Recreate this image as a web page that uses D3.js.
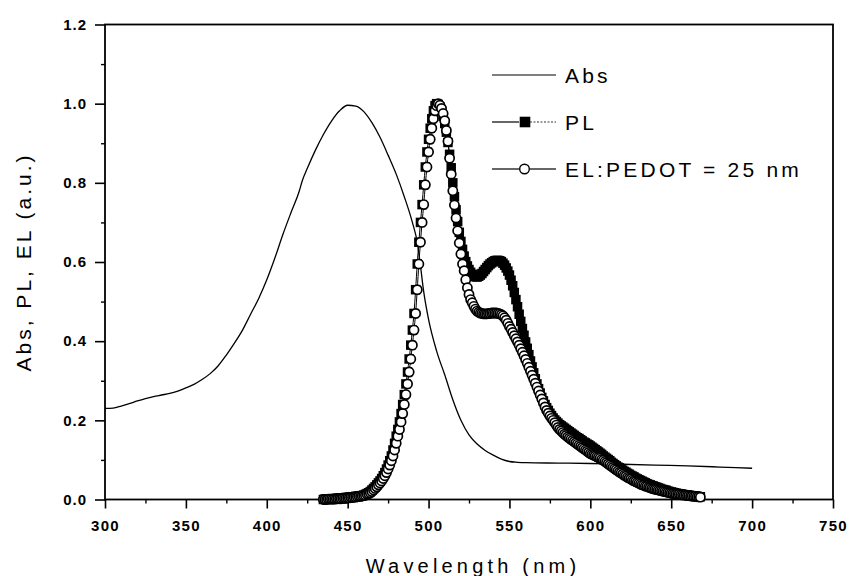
<!DOCTYPE html>
<html>
<head>
<meta charset="utf-8">
<script src="https://cdn.jsdelivr.net/npm/d3@7"></script>
<style>
  body { margin: 0; background: #fff; }
  svg { display: block; }
</style>
</head>
<body>
<div id="chart"></div>
<script>
// Absorption spectrum
const absWl = [300, 305, 310, 315, 320, 325, 330, 335, 340, 345, 350, 355, 360, 365, 370, 375, 380, 385, 390, 395,
  400, 405, 410, 415, 420, 422, 425, 430, 435, 440, 445, 450, 455, 460, 465, 470, 475, 480, 485, 490,
  493, 495, 497, 500, 505, 510, 515, 520, 525, 530, 535, 540, 545, 550, 555, 560, 580, 600, 620, 640,
  660, 680, 700];
const absVal = [0.230, 0.231, 0.236, 0.242, 0.249, 0.255, 0.260, 0.264, 0.268, 0.274, 0.282, 0.291, 0.303, 0.318, 0.338, 0.365, 0.395, 0.428, 0.468, 0.508,
  0.555, 0.610, 0.670, 0.725, 0.778, 0.806, 0.836, 0.882, 0.922, 0.956, 0.982, 0.996, 0.994, 0.980, 0.952, 0.915, 0.870, 0.822, 0.765, 0.700,
  0.650, 0.590, 0.525, 0.455, 0.375, 0.315, 0.252, 0.200, 0.163, 0.140, 0.124, 0.112, 0.102, 0.096, 0.094, 0.093, 0.092, 0.091, 0.089, 0.087,
  0.085, 0.082, 0.079];

// PL and EL are sampled every 1 nm, 435 .. 668 nm
const emWl = d3.range(435, 669);
const plVal = [
  0.000, 0.001, 0.001, 0.001, 0.001, 0.002, 0.002, 0.002, 0.003, 0.003,
  0.003, 0.004, 0.004, 0.004, 0.005, 0.005, 0.006, 0.006, 0.007, 0.007,
  0.008, 0.008, 0.009, 0.009, 0.010, 0.011, 0.013, 0.015, 0.017, 0.020,
  0.024, 0.028, 0.032, 0.037, 0.042, 0.047, 0.053, 0.060, 0.068, 0.077,
  0.087, 0.098, 0.110, 0.125, 0.142, 0.160, 0.177, 0.196, 0.217, 0.240,
  0.265, 0.292, 0.322, 0.355, 0.390, 0.428, 0.470, 0.530, 0.595, 0.650,
  0.700, 0.745, 0.795, 0.840, 0.878, 0.910, 0.938, 0.962, 0.982, 0.995,
  1.000, 0.998, 0.992, 0.982, 0.968, 0.950, 0.928, 0.902, 0.872, 0.838,
  0.800, 0.765, 0.732, 0.702, 0.675, 0.652, 0.632, 0.615, 0.601, 0.590,
  0.581, 0.574, 0.569, 0.565, 0.563, 0.562, 0.564, 0.567, 0.571, 0.576,
  0.581, 0.586, 0.591, 0.595, 0.598, 0.601, 0.603, 0.604, 0.604, 0.603,
  0.601, 0.597, 0.592, 0.585, 0.577, 0.567, 0.554, 0.540, 0.523, 0.505,
  0.487, 0.468, 0.450, 0.432, 0.415, 0.398, 0.382, 0.366, 0.350, 0.335,
  0.320, 0.305, 0.292, 0.280, 0.269, 0.258, 0.249, 0.240, 0.232, 0.225,
  0.218, 0.212, 0.206, 0.201, 0.197, 0.193, 0.189, 0.186, 0.183, 0.180,
  0.177, 0.174, 0.171, 0.168, 0.165, 0.162, 0.159, 0.156, 0.154, 0.151,
  0.148, 0.145, 0.143, 0.140, 0.138, 0.135, 0.132, 0.129, 0.126, 0.123,
  0.120, 0.117, 0.114, 0.110, 0.107, 0.104, 0.101, 0.098, 0.094, 0.091,
  0.088, 0.085, 0.082, 0.080, 0.077, 0.074, 0.071, 0.069, 0.066, 0.064,
  0.061, 0.059, 0.057, 0.054, 0.052, 0.050, 0.048, 0.046, 0.044, 0.042,
  0.040, 0.038, 0.037, 0.035, 0.034, 0.032, 0.031, 0.029, 0.028, 0.026,
  0.025, 0.024, 0.023, 0.021, 0.020, 0.019, 0.018, 0.017, 0.016, 0.015,
  0.014, 0.014, 0.013, 0.012, 0.012, 0.011, 0.010, 0.010, 0.009, 0.009,
  0.008, 0.008, 0.007, 0.007];
const elVal = [
  0.000, 0.000, 0.000, 0.001, 0.001, 0.001, 0.001, 0.001, 0.002, 0.002,
  0.002, 0.002, 0.003, 0.003, 0.003, 0.004, 0.004, 0.005, 0.005, 0.006,
  0.006, 0.007, 0.008, 0.008, 0.009, 0.010, 0.011, 0.013, 0.015, 0.017,
  0.020, 0.024, 0.028, 0.032, 0.037, 0.042, 0.047, 0.053, 0.060, 0.068,
  0.077, 0.087, 0.098, 0.110, 0.125, 0.142, 0.160, 0.177, 0.196, 0.217,
  0.240, 0.265, 0.292, 0.322, 0.355, 0.390, 0.428, 0.470, 0.530, 0.595,
  0.650, 0.700, 0.745, 0.795, 0.840, 0.878, 0.910, 0.938, 0.962, 0.982,
  0.995, 1.000, 0.996, 0.988, 0.975, 0.957, 0.932, 0.905, 0.862, 0.822,
  0.780, 0.744, 0.711, 0.679, 0.648, 0.620, 0.595, 0.578, 0.555, 0.535,
  0.518, 0.505, 0.497, 0.488, 0.481, 0.476, 0.473, 0.471, 0.470, 0.469,
  0.469, 0.469, 0.470, 0.470, 0.471, 0.471, 0.471, 0.471, 0.470, 0.469,
  0.467, 0.464, 0.459, 0.453, 0.445, 0.437, 0.430, 0.422, 0.414, 0.406,
  0.398, 0.390, 0.381, 0.372, 0.363, 0.354, 0.344, 0.334, 0.324, 0.314,
  0.304, 0.294, 0.284, 0.274, 0.264, 0.254, 0.244, 0.234, 0.225, 0.218,
  0.211, 0.205, 0.200, 0.194, 0.188, 0.182, 0.177, 0.173, 0.169, 0.165,
  0.162, 0.158, 0.155, 0.152, 0.149, 0.146, 0.143, 0.140, 0.137, 0.134,
  0.131, 0.128, 0.125, 0.122, 0.119, 0.116, 0.114, 0.112, 0.110, 0.108,
  0.106, 0.104, 0.101, 0.099, 0.096, 0.093, 0.090, 0.087, 0.084, 0.081,
  0.078, 0.075, 0.072, 0.069, 0.067, 0.064, 0.061, 0.059, 0.056, 0.054,
  0.052, 0.049, 0.047, 0.045, 0.043, 0.041, 0.039, 0.037, 0.036, 0.034,
  0.033, 0.031, 0.030, 0.028, 0.027, 0.026, 0.025, 0.024, 0.023, 0.022,
  0.021, 0.020, 0.019, 0.018, 0.017, 0.016, 0.015, 0.015, 0.014, 0.013,
  0.013, 0.012, 0.012, 0.011, 0.011, 0.010, 0.010, 0.009, 0.009, 0.008,
  0.008, 0.007, 0.007, 0.006];

const xTicks = [300, 350, 400, 450, 500, 550, 600, 650, 700, 750];
const xMinor = [325, 375, 425, 475, 525, 575, 625, 675, 725];
const yTicks = [0.0, 0.2, 0.4, 0.6, 0.8, 1.0, 1.2];
const yMinor = [0.1, 0.3, 0.5, 0.7, 0.9, 1.1];
const legendLabels = ["Abs", "PL", "EL:PEDOT = 25 nm"];

const width = 851, height = 576;
const margin = {top: 24.5, right: 18, bottom: 76.5, left: 105};

const svg = d3.select("#chart").append("svg")
  .attr("width", width)
  .attr("height", height);

const x = d3.scaleLinear().domain([300, 750]).range([margin.left, width - margin.right]);
const y = d3.scaleLinear().domain([0, 1.2]).range([height - margin.bottom, margin.top]);

const tickFont = "'Liberation Sans', Arial, sans-serif";

// x axis: major + minor ticks
const xAxis = svg.append("g")
  .attr("transform", `translate(0,${y(0)})`)
  .call(d3.axisBottom(x).tickValues(xTicks).tickSize(9).tickSizeOuter(0).tickPadding(12))
xAxis.select(".domain").remove();
xAxis.selectAll("line").attr("stroke-width", 1.6);
xAxis.selectAll("text")
  .attr("font-family", tickFont)
  .attr("font-weight", "bold")
  .attr("font-size", 15)
  .style("letter-spacing", "1.3px")
  .attr("fill", "#000");

svg.append("g")
  .attr("transform", `translate(0,${y(0)})`)
  .call(d3.axisBottom(x).tickValues(xMinor).tickSize(4).tickFormat(""))
  .call(g => g.select(".domain").remove())
  .selectAll("line").attr("stroke-width", 1.4);

// y axis
const yAxis = svg.append("g")
  .attr("transform", `translate(${x(300)},0)`)
  .call(d3.axisLeft(y).tickValues(yTicks).tickSize(10).tickSizeOuter(0).tickPadding(8).tickFormat(d3.format(".1f")));
yAxis.select(".domain").remove();
yAxis.selectAll("line").attr("stroke-width", 1.6);
yAxis.selectAll("text")
  .attr("font-family", tickFont)
  .attr("font-weight", "bold")
  .attr("font-size", 15)
  .style("letter-spacing", "1px")
  .attr("fill", "#000");

svg.append("g")
  .attr("transform", `translate(${x(300)},0)`)
  .call(d3.axisLeft(y).tickValues(yMinor).tickSize(4).tickFormat(""))
  .call(g => g.select(".domain").remove())
  .selectAll("line").attr("stroke-width", 1.4);

// frame
svg.append("rect")
  .attr("x", x(300))
  .attr("y", y(1.2))
  .attr("width", x(750) - x(300))
  .attr("height", y(0) - y(1.2))
  .attr("fill", "none")
  .attr("stroke", "#000")
  .attr("stroke-width", 1.8);

// axis titles
svg.append("text")
  .attr("x", (x(300) + x(750)) / 2 + 4)
  .attr("y", 573)
  .attr("text-anchor", "middle")
  .attr("font-family", tickFont)
  .attr("font-size", 20)
  .style("letter-spacing", "4.2px")
  .text("Wavelength (nm)");

svg.append("text")
  .attr("transform", `translate(31,${(y(0) + y(1.2)) / 2}) rotate(-90)`)
  .attr("text-anchor", "middle")
  .attr("font-family", tickFont)
  .attr("font-size", 21)
  .style("letter-spacing", "3px")
  .text("Abs, PL, EL (a.u.)");

// Abs curve
const absData = absWl.map((w, i) => ({w, v: absVal[i]}));
const line = d3.line().x(d => x(d.w)).y(d => y(d.v)).curve(d3.curveMonotoneX);

svg.append("path")
  .datum(absData)
  .attr("fill", "none")
  .attr("stroke", "#000")
  .attr("stroke-width", 1.3)
  .attr("d", line);

// PL: filled squares
const plData = emWl.map((w, i) => ({w, v: plVal[i]}));
const elData = emWl.map((w, i) => ({w, v: elVal[i]}));
const sq = 9.5;

svg.append("path")
  .datum(plData)
  .attr("fill", "none")
  .attr("stroke", "#000")
  .attr("stroke-width", 1)
  .attr("d", line);

svg.append("g")
  .selectAll("rect")
  .data(plData)
  .join("rect")
  .attr("x", d => x(d.w) - sq / 2)
  .attr("y", d => y(d.v) - sq / 2)
  .attr("width", sq)
  .attr("height", sq)
  .attr("fill", "#000");

// EL: open circles
svg.append("path")
  .datum(elData)
  .attr("fill", "none")
  .attr("stroke", "#000")
  .attr("stroke-width", 1)
  .attr("d", line);

svg.append("g")
  .selectAll("circle")
  .data(elData)
  .join("circle")
  .attr("cx", d => x(d.w))
  .attr("cy", d => y(d.v))
  .attr("r", 4.6)
  .attr("fill", "#fff")
  .attr("stroke", "#000")
  .attr("stroke-width", 1.7);

// legend
const legend = svg.append("g").attr("transform", "translate(492,75)");
const rowGap = 47;

legendLabels.forEach((label, i) => {
  const row = legend.append("g").attr("transform", `translate(0,${i * rowGap})`);
  if (i === 0) {
    row.append("line").attr("x1", 0).attr("x2", 64).attr("stroke", "#000").attr("stroke-width", 1.2);
  } else {
    row.append("line").attr("x1", 0).attr("x2", 27).attr("stroke", "#000").attr("stroke-width", 1.2);
    row.append("line").attr("x1", 38).attr("x2", 64).attr("stroke", "#000")
      .attr("stroke-width", i === 1 ? 0.8 : 1.2)
      .attr("stroke-dasharray", i === 1 ? "2,1.5" : null);
  }
  if (i === 1) {
    row.append("rect").attr("x", 33 - 5.3).attr("y", -5.3).attr("width", 10.6).attr("height", 10.6).attr("fill", "#000");
  }
  if (i === 2) {
    row.append("circle").attr("cx", 32.5).attr("cy", 0).attr("r", 4.8)
      .attr("fill", "#fff").attr("stroke", "#000").attr("stroke-width", 1.4);
  }
  row.append("text")
    .attr("x", 73)
    .attr("y", 7.5)
    .attr("font-family", tickFont)
    .attr("font-size", 21)
    .style("letter-spacing", "3.2px")
    .text(label);
});
</script>
</body>
</html>
